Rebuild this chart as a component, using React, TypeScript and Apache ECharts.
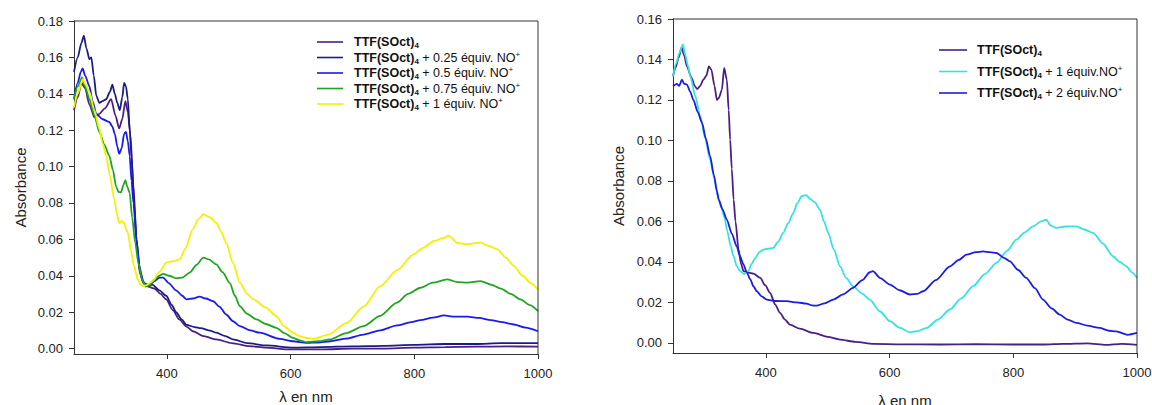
import React, { useEffect, useRef } from "react";
import * as echarts from "echarts";

// ---------- Data (wavelength nm, absorbance) ----------
const L_pure: [number, number][] = [
  [250,0.131],[256,0.138],[262,0.146],[268,0.143],[275,0.134],[283,0.127],[291,0.129],[300,0.132],[310,0.137],[317,0.128],[323,0.121],[328,0.126],[333,0.136],[337,0.130],[341,0.118],[346,0.09],[351,0.06],[356,0.042],[362,0.036],[370,0.034],[380,0.033],[390,0.030],[399,0.027],[410,0.021],[420,0.016],[432,0.012],[442,0.0095],[460,0.0068],[480,0.005],[505,0.003],[534,0.0013],[560,0.0005],[600,-0.0005],[650,-0.0005],[700,0.0],[750,0.0],[800,0.0005],[850,0.0008],[900,0.001],[950,0.0012],[1000,0.001]
];
const L_025: [number, number][] = [
  [250,0.152],[256,0.160],[262,0.168],[266,0.172],[270,0.165],[275,0.159],[278,0.160],[282,0.150],[286,0.139],[291,0.135],[296,0.136],[302,0.137],[308,0.141],[312,0.145],[316,0.140],[320,0.135],[324,0.131],[328,0.138],[331,0.146],[334,0.144],[337,0.137],[340,0.120],[343,0.105],[347,0.08],[352,0.055],[357,0.042],[363,0.036],[370,0.035],[377,0.035],[388,0.032],[399,0.029],[408,0.024],[415,0.020],[424,0.016],[432,0.013],[445,0.0118],[455,0.0112],[470,0.0098],[480,0.0087],[495,0.0068],[507,0.005],[530,0.003],[561,0.0017],[604,0.0005],[650,0.0008],[700,0.0012],[750,0.0015],[800,0.002],[850,0.0025],[900,0.0025],[940,0.003],[970,0.003],[1000,0.003]
];
const L_05: [number, number][] = [
  [250,0.137],[256,0.146],[261,0.152],[264,0.154],[268,0.150],[275,0.144],[280,0.136],[286,0.129],[296,0.126],[307,0.1245],[312,0.122],[316,0.118],[320,0.111],[323,0.107],[327,0.110],[331,0.118],[334,0.119],[337,0.114],[340,0.106],[343,0.092],[346,0.080],[351,0.060],[356,0.045],[361,0.037],[366,0.035],[372,0.035],[380,0.037],[388,0.039],[394,0.039],[403,0.036],[415,0.032],[425,0.029],[432,0.027],[442,0.0275],[453,0.0285],[463,0.0275],[475,0.026],[485,0.023],[496,0.0187],[507,0.015],[518,0.0123],[535,0.010],[550,0.0087],[583,0.0053],[604,0.004],[626,0.0031],[645,0.0033],[664,0.004],[690,0.0055],[718,0.0077],[745,0.010],[772,0.0127],[795,0.0145],[810,0.0156],[830,0.017],[848,0.0182],[865,0.0175],[886,0.0175],[905,0.0168],[924,0.0156],[942,0.0145],[961,0.0132],[980,0.0115],[1000,0.0095]
];
const L_075: [number, number][] = [
  [250,0.137],[256,0.144],[263,0.149],[268,0.144],[275,0.137],[283,0.128],[291,0.119],[299,0.112],[307,0.106],[313,0.098],[318,0.089],[322,0.086],[326,0.0858],[330,0.090],[333,0.0926],[336,0.089],[340,0.0855],[344,0.072],[349,0.058],[354,0.047],[360,0.038],[366,0.034],[372,0.035],[380,0.038],[388,0.040],[394,0.041],[404,0.040],[415,0.0386],[425,0.039],[437,0.0417],[448,0.046],[459,0.050],[468,0.049],[480,0.0463],[490,0.042],[502,0.036],[510,0.029],[518,0.0233],[530,0.019],[545,0.016],[560,0.0135],[577,0.0114],[590,0.0085],[604,0.0059],[615,0.0045],[626,0.0035],[645,0.004],[664,0.005],[690,0.0085],[718,0.0123],[745,0.018],[772,0.0252],[790,0.030],[810,0.0334],[830,0.0362],[853,0.038],[870,0.0365],[886,0.0362],[907,0.0371],[925,0.035],[940,0.0329],[956,0.030],[972,0.027],[986,0.024],[1000,0.0206]
];
const L_1: [number, number][] = [
  [250,0.1326],[256,0.140],[264,0.148],[269,0.145],[275,0.141],[283,0.131],[291,0.1207],[296,0.113],[302,0.106],[308,0.095],[315,0.082],[320,0.073],[323,0.069],[327,0.070],[331,0.069],[334,0.0655],[337,0.0637],[342,0.054],[347,0.0453],[353,0.038],[358,0.035],[362,0.0343],[368,0.035],[377,0.0371],[388,0.042],[399,0.0472],[410,0.048],[421,0.049],[430,0.055],[442,0.0656],[451,0.071],[459,0.0738],[470,0.072],[480,0.069],[488,0.064],[496,0.058],[507,0.047],[518,0.0362],[530,0.030],[540,0.027],[560,0.0225],[577,0.0178],[590,0.012],[604,0.0087],[615,0.0068],[626,0.0058],[637,0.0053],[660,0.0075],[691,0.0141],[718,0.023],[745,0.0343],[772,0.043],[799,0.0518],[815,0.0555],[832,0.0591],[845,0.0605],[856,0.0619],[870,0.058],[886,0.0573],[907,0.0582],[920,0.0565],[934,0.0546],[948,0.050],[961,0.0453],[975,0.040],[988,0.036],[1000,0.0325]
];

const R_pure: [number, number][] = [
  [250,0.1317],[254,0.136],[259,0.1408],[264,0.146],[268,0.142],[272.5,0.1366],[280,0.1309],[285,0.127],[289,0.1254],[294,0.127],[299,0.130],[304,0.132],[308,0.1366],[312,0.135],[317,0.127],[321,0.120],[324,0.121],[329,0.125],[332.7,0.1358],[337,0.130],[340,0.115],[342.4,0.1004],[345,0.086],[348,0.0708],[351,0.06],[356,0.046],[360,0.039],[364,0.0354],[372,0.0347],[380,0.0342],[391,0.0321],[399,0.0285],[407,0.0247],[415,0.019],[423,0.0148],[431,0.0115],[439,0.009],[455,0.007],[477,0.0049],[500,0.003],[520,0.0016],[545,0.0005],[574,-0.0005],[620,-0.0007],[680,-0.0008],[740,-0.0006],[800,-0.0008],[850,-0.0008],[880,-0.0005],[920,-0.0002],[950,-0.001],[975,-0.0005],[1000,-0.001]
];
const R_1: [number, number][] = [
  [250,0.1317],[255,0.138],[260,0.143],[266,0.1474],[270,0.142],[274,0.137],[278,0.1317],[286,0.122],[294,0.112],[302,0.101],[310,0.0906],[317,0.081],[323.5,0.0708],[328,0.067],[333,0.062],[338,0.055],[343,0.048],[347.8,0.0428],[353,0.038],[358.5,0.0354],[365,0.034],[372,0.0354],[377,0.039],[383,0.042],[390,0.045],[396,0.0461],[404,0.0465],[412,0.0469],[420,0.050],[428,0.0543],[436,0.059],[444.6,0.0642],[451,0.069],[458,0.0725],[465,0.073],[472,0.071],[479,0.0695],[487.6,0.0658],[494,0.060],[501,0.0543],[510,0.046],[520,0.0378],[530,0.032],[541,0.028],[555,0.0245],[568,0.0214],[584.5,0.0155],[600.6,0.0107],[616,0.0075],[633,0.0052],[645,0.0058],[660,0.0074],[678,0.0115],[697.6,0.0165],[716,0.022],[735,0.028],[754,0.034],[773,0.0395],[790,0.0455],[805,0.051],[818,0.0545],[832,0.0576],[845,0.060],[853.5,0.0609],[860,0.058],[869.6,0.0568],[885,0.0575],[902,0.0576],[915,0.056],[929,0.0543],[945,0.049],[961,0.0428],[972,0.040],[983,0.0378],[991,0.035],[1000,0.0321]
];
const R_2: [number, number][] = [
  [250,0.1268],[256,0.128],[260,0.127],[264.5,0.130],[268,0.128],[272.5,0.1276],[278,0.124],[283,0.120],[290,0.114],[297,0.1087],[303,0.101],[310,0.0922],[316,0.083],[321,0.0749],[324,0.0708],[330,0.066],[337,0.0609],[345,0.054],[353,0.0477],[358,0.043],[364,0.0387],[369,0.035],[375,0.0313],[380,0.028],[385.5,0.0255],[393,0.023],[401.6,0.0214],[415,0.0207],[434,0.0206],[450,0.020],[466,0.0194],[475,0.0185],[482,0.0184],[495,0.0195],[509,0.0214],[525,0.024],[541,0.0272],[556,0.031],[568,0.0349],[573,0.0354],[585,0.032],[600.6,0.0288],[616,0.026],[633,0.0239],[645,0.0242],[654.5,0.0255],[675,0.031],[697.6,0.0378],[712,0.041],[724.5,0.0436],[740,0.0448],[751,0.0452],[762,0.0448],[773,0.0444],[785,0.042],[794.6,0.0403],[808,0.036],[821,0.0321],[835,0.027],[848,0.0214],[862,0.017],[875,0.014],[888,0.0115],[902,0.0099],[920,0.0085],[939.6,0.0074],[955,0.006],[966.5,0.0057],[985,0.004],[1000,0.0049]
];

const xRange = [250, 1000];
const yRangeLeft = [-0.003, 0.18];
const yRangeRight = [-0.005, 0.16];
const xTicks = [400, 600, 800, 1000];
const yTicksLeft = [0, 0.02, 0.04, 0.06, 0.08, 0.1, 0.12, 0.14, 0.16, 0.18];
const yTicksRight = [0, 0.02, 0.04, 0.06, 0.08, 0.1, 0.12, 0.14, 0.16];

const leftNames = ["L0", "L1", "L2", "L3", "L4"];
const leftSuffix = ["", " + 0.25 équiv. NO", " + 0.5 équiv. NO", " + 0.75 équiv. NO", " + 1 équiv. NO"];
const leftColors = ["#4a1f86", "#1c1c86", "#1a1aee", "#1fa51f", "#f2f200"];
const leftData = [L_pure, L_025, L_05, L_075, L_1];

const rightNames = ["R0", "R1", "R2"];
const rightSuffix = ["", " + 1 équiv.NO", " + 2 équiv.NO"];
const rightColors = ["#4a1f86", "#33e3e3", "#1c1ce0"];
const rightData = [R_pure, R_1, R_2];

const FONT = "Liberation Sans, Arial, Helvetica, sans-serif";

export default function App() {
  const ref = useRef<HTMLDivElement>(null);
  useEffect(() => {
    if (!ref.current) return;
    const chart = echarts.init(ref.current, undefined, { renderer: "svg" });

    const labelMap: Record<string, string> = {};
    leftNames.forEach((n, i) => {
      labelMap[n] = "{sp| }{b|TTF(SOct)}{sub|4}" + (leftSuffix[i] ? "{r|" + leftSuffix[i] + "}{sup|+}" : "");
    });
    rightNames.forEach((n, i) => {
      labelMap[n] = "{sp2| }{b|TTF(SOct)}{sub|4}" + (rightSuffix[i] ? "{r|" + rightSuffix[i] + "}{sup|+}" : "");
    });

    const rich = {
      sp: { width: 6, fontSize: 12 },
      sp2: { width: 5, fontSize: 12 },
      b: { fontWeight: "bold", fontSize: 12.5, lineHeight: 15, color: "#111", fontFamily: FONT },
      r: { fontSize: 12.5, lineHeight: 15, color: "#111", fontFamily: FONT },
      sub: { fontWeight: "bold", fontSize: 8, lineHeight: 5, verticalAlign: "bottom", color: "#111", fontFamily: FONT },
      sup: { fontSize: 8, lineHeight: 5, verticalAlign: "top", color: "#111", fontFamily: FONT },
    };

    const axisX = (gridIndex: number, nameGap: number) => ({
      type: "value",
      gridIndex,
      min: xRange[0],
      max: xRange[1],
      splitNumber: 4,
      position: "bottom",
      name: "λ en nm",
      nameLocation: "middle",
      nameGap,
      nameTextStyle: { fontSize: 15, color: "#222", fontFamily: FONT },
      splitLine: { show: false },
      axisLine: { show: true, onZero: false, lineStyle: { color: "#333", width: 1 } },
      axisTick: { show: true, length: 5, lineStyle: { color: "#333" }, customValues: xTicks },
      axisLabel: {
        fontSize: 13, color: "#222", fontFamily: FONT, margin: 13,
        customValues: xTicks,
        formatter: (v: number) => (v < 300 ? "" : String(v)),
      },
    });
    const axisY = (gridIndex: number, range: number[], split: number, ticks: number[], nameGap: number) => ({
      type: "value",
      gridIndex,
      min: range[0],
      max: range[1],
      splitNumber: split,
      position: "left",
      name: "Absorbance",
      nameLocation: "middle",
      nameRotate: 90,
      nameGap,
      nameTextStyle: { fontSize: 15, color: "#222", fontFamily: FONT },
      splitLine: { show: false },
      axisLine: { show: true, onZero: false, lineStyle: { color: "#333", width: 1 } },
      axisTick: { show: true, length: 5, lineStyle: { color: "#333" }, customValues: ticks },
      axisLabel: {
        fontSize: 13, color: "#222", fontFamily: FONT, margin: 11,
        customValues: ticks,
        formatter: (v: number) => (v < -0.001 ? "" : v.toFixed(2)),
      },
    });

    const series: any[] = [];
    // plot frame (top and right edges) drawn through the axes' scales
    [yRangeLeft, yRangeRight].forEach((yr, gi) => {
      series.push({
        type: "line", name: "frame" + gi, xAxisIndex: gi, yAxisIndex: gi,
        data: [[xRange[0], yr[1]], [xRange[1], yr[1]], [xRange[1], yr[0]]],
        symbol: "none", silent: true, clip: false, z: 5,
        lineStyle: { color: "#333", width: 1 }, itemStyle: { color: "#333" },
        tooltip: { show: false },
      });
    });
    leftData.forEach((d, i) => {
      series.push({
        type: "line", name: leftNames[i], data: d, xAxisIndex: 0, yAxisIndex: 0,
        symbol: "none", smooth: 0.25, smoothMonotone: "x",
        lineStyle: { color: leftColors[i], width: 1.8 }, itemStyle: { color: leftColors[i] },
      });
    });
    rightData.forEach((d, i) => {
      series.push({
        type: "line", name: rightNames[i], data: d, xAxisIndex: 1, yAxisIndex: 1,
        symbol: "none", smooth: 0.25, smoothMonotone: "x",
        lineStyle: { color: rightColors[i], width: 1.8 }, itemStyle: { color: rightColors[i] },
      });
    });

    chart.setOption({
      animation: false,
      backgroundColor: "#fff",
      textStyle: { fontFamily: FONT },
      grid: [
        { left: 74, top: 21, width: 464, height: 333, outerBoundsMode: "none", containLabel: false },
        { left: 673, top: 19, width: 464, height: 334, outerBoundsMode: "none", containLabel: false },
      ],
      xAxis: [axisX(0, 35), axisX(1, 40)],
      yAxis: [
        axisY(0, yRangeLeft, 9, yTicksLeft, 46),
        axisY(1, yRangeRight, 8, yTicksRight, 47),
      ],
      legend: [
        {
          data: leftNames.map((n) => ({ name: n, icon: "rect" })),
          orient: "vertical", left: 312, top: 30.5, itemWidth: 26, itemHeight: 1.6, itemGap: 0.5,
          selectedMode: false, formatter: (n: string) => labelMap[n], textStyle: { rich, fontSize: 12.5 },
        },
        {
          data: rightNames.map((n) => ({ name: n, icon: "rect" })),
          orient: "vertical", left: 934, top: 38.5, itemWidth: 28, itemHeight: 1.6, itemGap: 6.5,
          selectedMode: false, formatter: (n: string) => labelMap[n], textStyle: { rich, fontSize: 12.5 },
        },
      ],
      series,
    });

    return () => chart.dispose();
  }, []);
  return <div ref={ref} style={{ position: "fixed", left: 0, top: 0, width: 1152, height: 405, background: "#fff" }} />;
}
